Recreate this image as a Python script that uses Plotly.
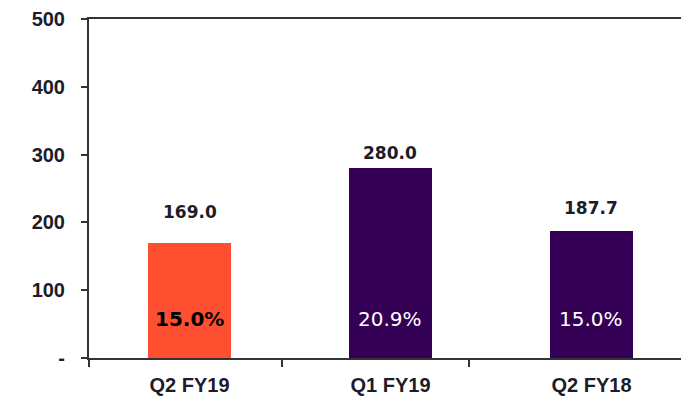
import plotly.graph_objects as go

categories = ["Q2 FY19", "Q1 FY19", "Q2 FY18"]
values = [169.0, 280.0, 187.7]
margins = ["15.0%", "20.9%", "15.0%"]
y_ticks = [0, 100, 200, 300, 400, 500]
y_tick_text = ["-", "100", "200", "300", "400", "500"]

bar_colors = ["#FF4F31", "#330055", "#330055"]
pct_colors = ["#000000", "#FFFFFF", "#FFFFFF"]
pct_bold = [True, False, False]
label_shift = [31, 15, 23]

xpos = list(range(len(categories)))

fig = go.Figure()
fig.add_trace(go.Bar(
    x=xpos, y=values, width=0.41,
    marker=dict(color=bar_colors, line=dict(width=0)),
    hoverinfo="skip", showlegend=False,
))

for i, (v, p) in enumerate(zip(values, margins)):
    fig.add_annotation(
        x=xpos[i], y=v, text=f"<b>{v:.1f}</b>", showarrow=False,
        yanchor="middle", yshift=label_shift[i],
        font=dict(family="DejaVu Sans", size=17, color="#1c1c2a"),
    )
    fig.add_annotation(
        x=xpos[i], y=0, text=(f"<b>{p}</b>" if pct_bold[i] else p), showarrow=False,
        yanchor="middle", yshift=39,
        font=dict(family="DejaVu Sans", size=20, color=pct_colors[i]),
    )

fig.update_layout(
    width=689, height=400,
    margin=dict(l=81, r=0, t=11, b=50),
    paper_bgcolor="white", plot_bgcolor="white",
    bargap=0,
    xaxis=dict(
        range=[-0.5, 2.525], automargin=False,
        tickvals=xpos, ticktext=categories,
        ticks="", showgrid=False, zeroline=False,
        showline=True, linecolor="#333333", linewidth=2, mirror=True,
        tickfont=dict(family="Liberation Sans", size=20, color="#1c1c2a", weight="bold"),
        ticklabelstandoff=8,
        minor=dict(tickmode="array", tickvals=[-0.5, 0.46, 1.39], ticks="outside",
                   ticklen=7, tickwidth=1.5, tickcolor="#333333", showgrid=False),
    ),
    yaxis=dict(
        range=[0, 500], automargin=False,
        tickvals=y_ticks, ticktext=y_tick_text,
        ticks="outside", ticklen=6, tickwidth=1.5, tickcolor="#333333",
        showgrid=False, zeroline=False,
        showline=True, linecolor="#333333", linewidth=2,
        tickfont=dict(family="Liberation Sans", size=20, color="#1c1c2a", weight="bold"),
        ticklabelstandoff=12,
    ),
    font=dict(family="Liberation Sans"),
)

fig.write_html("out.html")
